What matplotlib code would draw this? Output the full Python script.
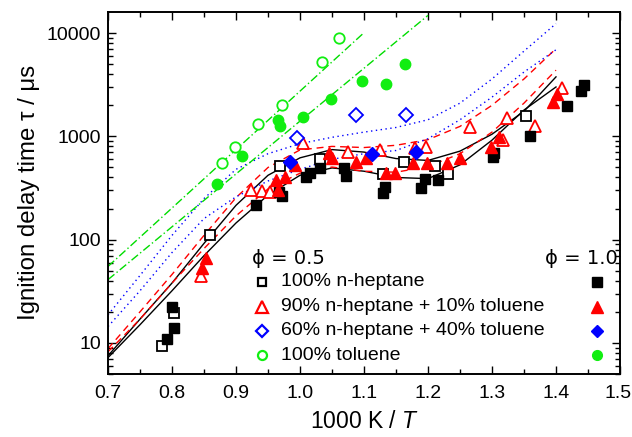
import matplotlib
matplotlib.use("Agg")
import matplotlib.pyplot as plt
from matplotlib.lines import Line2D
import matplotlib.transforms as mtransforms
import numpy as np

plt.rcParams['font.family'] = ['Liberation Sans', 'DejaVu Sans']
plt.rcParams['mathtext.fontset'] = 'custom'
plt.rcParams['mathtext.it'] = 'Liberation Sans:italic'

# ---------------- experimental data (1000K/T, tau in us) ----------------
# phi = 0.5 (open symbols)
hep05_x = [0.785, 0.803, 0.859, 0.969, 1.031, 1.129, 1.163, 1.211, 1.232, 1.353]
hep05_y = [9.4, 19.5, 110, 516, 600, 432, 561, 520, 432, 1570]
mix10_05_x = [0.845, 0.924, 0.940, 0.953, 1.004, 1.075, 1.125, 1.180, 1.197, 1.266, 1.317, 1.324, 1.367, 1.410]
mix10_05_y = [44, 303, 298, 292, 855, 710, 738, 766, 795, 1240, 922, 1494, 1259, 2970]
mix40_05_x = [0.996, 1.088, 1.166]
mix40_05_y = [955, 1607, 1607]
tol05_x = [0.878, 0.898, 0.935, 0.972, 1.034, 1.061]
tol05_y = [549, 794, 1315, 2005, 5260, 8970]

# phi = 1.0 (filled symbols)
hep10_x = [0.792, 0.800, 0.803, 0.932, 0.967, 0.972, 1.010, 1.016, 1.031, 1.068, 1.072,
           1.130, 1.133, 1.189, 1.195, 1.215, 1.301, 1.303, 1.359, 1.417, 1.439, 1.444]
hep10_y = [10.8, 22.3, 14, 217, 290, 262, 407, 439, 491, 491, 413,
           285, 326, 314, 385, 378, 635, 685, 1007, 1977, 2760, 3130]
mix10_10_x = [0.847, 0.853, 0.963, 0.966, 0.977, 0.992, 1.046, 1.050, 1.088, 1.103, 1.134, 1.148,
              1.177, 1.198, 1.229, 1.250, 1.298, 1.311, 1.395, 1.402]
mix10_10_y = [53, 66, 379, 303, 407, 528, 685, 613, 568, 613, 445, 445,
              548, 548, 548, 613, 794, 979, 2159, 2563]
mix40_10_x = [0.984, 1.112, 1.181]
mix40_10_y = [569, 675, 705]
tol10_x = [0.871, 0.910, 0.965, 0.968, 1.004, 1.048, 1.097, 1.134, 1.164]
tol10_y = [344, 650, 1435, 1259, 1550, 2290, 3420, 3250, 5000]

# ---------------- model curves ----------------
curve_x = [0.70, 0.75, 0.80, 0.85, 0.90, 0.95, 1.00, 1.05, 1.10, 1.15, 1.20, 1.25, 1.30, 1.35, 1.40]
blk_a_y = [7.5, 17, 38, 92, 215, 420, 620, 745, 705, 610, 585, 720, 1050, 1750, 3770]
blk_b_y = [7.2, 15, 32, 70, 145, 270, 420, 495, 460, 400, 390, 530, 920, 1800, 3010]
red_a_y = [8.8, 20, 46, 110, 255, 500, 740, 800, 780, 820, 930, 1250, 2000, 3600, 7080]
red_b_y = [8.2, 17, 38, 82, 170, 310, 440, 505, 460, 450, 510, 680, 1100, 2100, 4380]
blu_a_y = [18.7, 45, 110, 250, 480, 680, 850, 980, 1100, 1220, 1450, 2100, 3600, 6700, 12360]
blu_b_y = [14.4, 32, 75, 160, 260, 370, 480, 600, 680, 730, 950, 1450, 2400, 4200, 6900]
grn_a_x = [0.70, 0.90, 1.10]
grn_a_y = [55, 745, 10100]
grn_b_x = [0.70, 0.95, 1.20]
grn_b_y = [41, 780, 14860]

legend_labels = ["100% n-heptane", "90% n-heptane + 10% toluene",
                 "60% n-heptane + 40% toluene", "100% toluene"]

fig = plt.figure(figsize=(6.32, 4.37), dpi=100)
ax = fig.add_axes([108/632, 1-374/437, 512/632, 362.5/437])

# model lines
ax.plot(curve_x, blk_a_y, '-', color='black', lw=1.0)
ax.plot(curve_x, blk_b_y, '-', color='black', lw=1.0)
ax.plot(curve_x, red_a_y, color='red', lw=1.0, dashes=(5, 3.5))
ax.plot(curve_x, red_b_y, color='red', lw=1.0, dashes=(5, 3.5))
ax.plot(curve_x, blu_a_y, color='blue', lw=1.0, dashes=(1, 2.5))
ax.plot(curve_x, blu_b_y, color='blue', lw=1.0, dashes=(1, 2.5))
ax.plot(grn_a_x, grn_a_y, color='#00dd00', lw=1.0, dashes=(6, 2, 1, 2))
ax.plot(grn_b_x, grn_b_y, color='#00dd00', lw=1.0, dashes=(6, 2, 1, 2))

green = '#11ee11'
ms_sq, ms_tri, ms_d, ms_c = 7.3, 9, 7, 7.5
ew = 1.3
ax.plot(hep05_x, hep05_y, 's', ms=ms_sq, mfc='white', mec='black', mew=ew, ls='none')
ax.plot(mix10_05_x, mix10_05_y, '^', ms=ms_tri, mfc='white', mec='red', mew=ew, ls='none')
ax.plot(mix40_05_x, mix40_05_y, 'D', ms=ms_d, mfc='white', mec='blue', mew=ew, ls='none')
ax.plot(tol05_x, tol05_y, 'o', ms=ms_c, mfc='white', mec=green, mew=ew, ls='none')

ax.plot(hep10_x, hep10_y, 's', ms=ms_sq, color='black', ls='none')
ax.plot(mix10_10_x, mix10_10_y, '^', ms=ms_tri, color='red', ls='none')
ax.plot(mix40_10_x, mix40_10_y, 'D', ms=ms_d, color='blue', ls='none')
ax.plot(tol10_x, tol10_y, 'o', ms=ms_c, color=green, ls='none')

ax.set_yscale('log')
ax.set_xlim(0.7, 1.5)
ax.set_ylim(5, 16200)
ax.set_xticks([0.7, 0.8, 0.9, 1.0, 1.1, 1.2, 1.3, 1.4, 1.5])
ax.set_xticks(np.arange(0.75, 1.5, 0.1), minor=True)
ax.set_yticks([10, 100, 1000, 10000])
ax.set_yticklabels(['10', '100', '1000', '10000'])
ax.tick_params(which='both', direction='in', top=True, right=True, labelsize=14, width=1.0)
ax.tick_params(which='major', length=6)
ax.tick_params(which='minor', length=3.5)
ax.tick_params(axis='x', pad=8)
ax.tick_params(axis='y', pad=5)
for s in ax.spines.values():
    s.set_linewidth(1.4)

# nudge the last x tick label slightly inward so it stays inside the canvas
fig.canvas.draw()
last = ax.get_xticklabels()[-1]
last.set_transform(last.get_transform() +
                   mtransforms.ScaledTranslation(-2/100, 0, fig.dpi_scale_trans))

ax.set_xlabel('1000 K / $\\it{T}$', fontsize=16.5, labelpad=6)
ax.set_ylabel('Ignition delay time \u03c4 / \u03bcs', fontsize=17.3, labelpad=5)

# legend
tr = ax.transAxes
rows_y = [0.254, 0.185, 0.119, 0.052]
open_styles = [dict(marker='s', ms=6, mfc='white', mec='black'),
               dict(marker='^', ms=8.5, mfc='white', mec='red'),
               dict(marker='D', ms=6.5, mfc='white', mec='blue'),
               dict(marker='o', ms=6.5, mfc='white', mec=green)]
fill_styles = [dict(marker='s', ms=6.5, color='black'),
               dict(marker='^', ms=8.5, color='red'),
               dict(marker='D', ms=6.5, color='blue'),
               dict(marker='o', ms=7, color=green)]
ax.text(0.281, 0.318, '\u03d5 = 0.5', transform=tr, fontsize=14, va='center', ha='left',
        family=['DejaVu Sans'])
ax.text(0.996, 0.318, '\u03d5 = 1.0', transform=tr, fontsize=14, va='center', ha='right',
        family=['DejaVu Sans'])
for yy, lab, so, sf in zip(rows_y, legend_labels, open_styles, fill_styles):
    ax.add_line(Line2D([0.301], [yy], transform=tr, mew=1.6, ls='none', **so))
    ax.add_line(Line2D([0.955], [yy], transform=tr, ls='none', **sf))
    ax.text(0.338, yy, lab, transform=tr, fontsize=14, va='center', ha='left')

fig.savefig('out.png', dpi=100)
